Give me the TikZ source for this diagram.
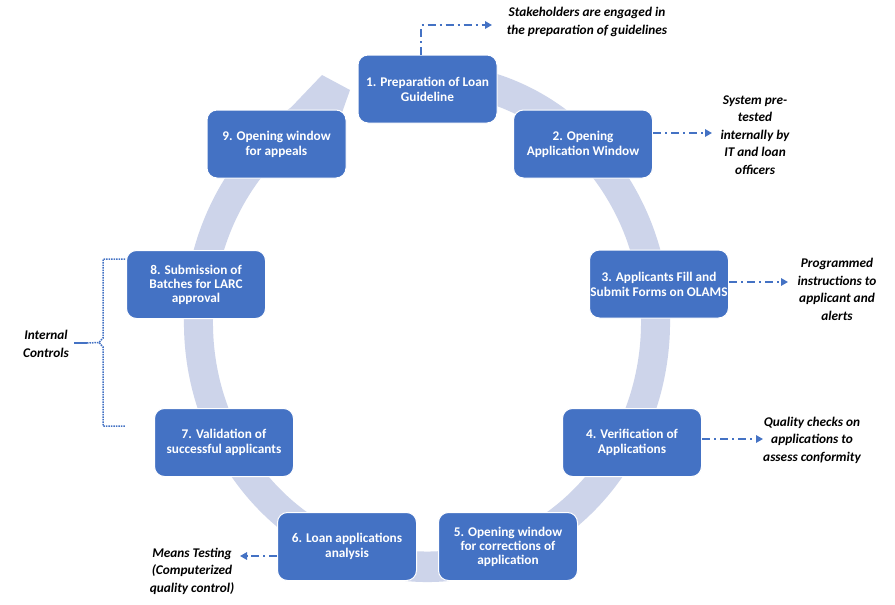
\documentclass[tikz,border=0pt]{standalone}
\usepackage{fontspec}
\setmainfont{Carlito}
\usetikzlibrary{arrows.meta}
\definecolor{boxblue}{RGB}{68,114,196}
\definecolor{ringc}{RGB}{205,212,234}
\begin{document}
\begin{tikzpicture}[x=1pt,y=-1pt,
  stepbox/.style={draw=white, line width=1pt, fill=boxblue, rounded corners=10pt,
    minimum width=139pt, minimum height=68pt, text=white, inner sep=0pt,
    font=\fontsize{13.3}{15}\selectfont\bfseries, align=center},
  threeline/.style={font=\fontsize{13.3}{14}\selectfont\bfseries},
  note/.style={font=\fontsize{13.3}{17.5}\selectfont\bfseries\itshape, align=center,
    text=black, inner sep=0pt},
  link/.style={draw=boxblue, line width=1.5pt, dash pattern=on 8pt off 4pt on 2pt off 4pt,
    -{Triangle[length=7pt,width=7.5pt]}},
  bracket/.style={draw=boxblue, line width=1.5pt, dash pattern=on 1.5pt off 1pt}
]
\useasboundingbox (0,0) rectangle (895,605);
\fill[white] (0,0) rectangle (895,605);

% ring with arrow head
\begin{scope}[shift={(427,322.5)}, yscale=-1]
  \fill[ringc] (80:243 and 259.5) arc[start angle=80, end angle=-236, x radius=243, y radius=259.5]
    -- (-105,247.5) -- (-77,232.5) -- (-87.6,202.5)
    -- (-238:214 and 229) arc[start angle=-238, end angle=80, x radius=214, y radius=229] -- cycle;
\end{scope}

% boxes
\node[stepbox] (b1) at (427.5,89) {1. Preparation of Loan\\Guideline};
\node[stepbox] (b2) at (583,144) {2. Opening\\Application Window};
\node[stepbox] (b3) at (659,284) {3. Applicants Fill and\\Submit Forms on OLAMS};
\node[stepbox] (b4) at (632,442.5) {4. Verification of\\Applications};
\node[stepbox,threeline] (b5) at (508,546.5) {5. Opening window\\for corrections of\\application};
\node[stepbox] (b6) at (347,546.5) {6. Loan applications\\analysis};
\node[stepbox] (b7) at (224,442.5) {7. Validation of\\successful applicants};
\node[stepbox,threeline] (b8) at (196,284.5) {8. Submission of\\Batches for LARC\\approval};
\node[stepbox] (b9) at (276.5,144) {9. Opening window\\for appeals};

% notes
\node[note] (n1) at (587,22) {Stakeholders are engaged in\\the preparation of guidelines};
\node[note] (n2) at (755,135) {System pre-\\tested\\internally by\\IT and loan\\officers};
\node[note] (n3) at (837,289.5) {Programmed\\instructions to\\applicant and\\alerts};
\node[note] (n4) at (812,440) {Quality checks on\\applications to\\assess conformity};
\node[note] (n6) at (192,571) {Means Testing\\(Computerized\\quality control)};
\node[note] (n8) at (46,344) {Internal\\Controls};

% connector end points
\coordinate (a1) at (492,25);
\coordinate (a2) at (712,133);
\coordinate (a3) at (788,282);
\coordinate (a4) at (763,439);
\coordinate (a6) at (240,556);

\draw[link] ([xshift=-6.5pt]b1.north) |- (a1);
\draw[link] (b2.east |- a2) -- (a2);
\draw[link] (b3.east |- a3) -- (a3);
\draw[link] (b4.east |- a4) -- (a4);
\draw[link] (b6.west |- a6) -- (a6);

% internal controls bracket
\coordinate (k1) at (125,259);
\coordinate (k2) at (103,259);
\coordinate (k3) at (103,338);
\coordinate (kp) at (99,342.5);
\coordinate (k4) at (103,347);
\coordinate (k5) at (103,426);
\coordinate (k6) at (125,426);
\coordinate (ks) at (74,343);
\coordinate (km) at (87,343);
\draw[bracket] (k1) -- (k2) -- (k3) -- (kp) -- (k4) -- (k5) -- (k6);
\draw[boxblue, line width=2pt] (ks) -- (km);
\draw[bracket] (km) -- (kp);
\end{tikzpicture}
\end{document}
